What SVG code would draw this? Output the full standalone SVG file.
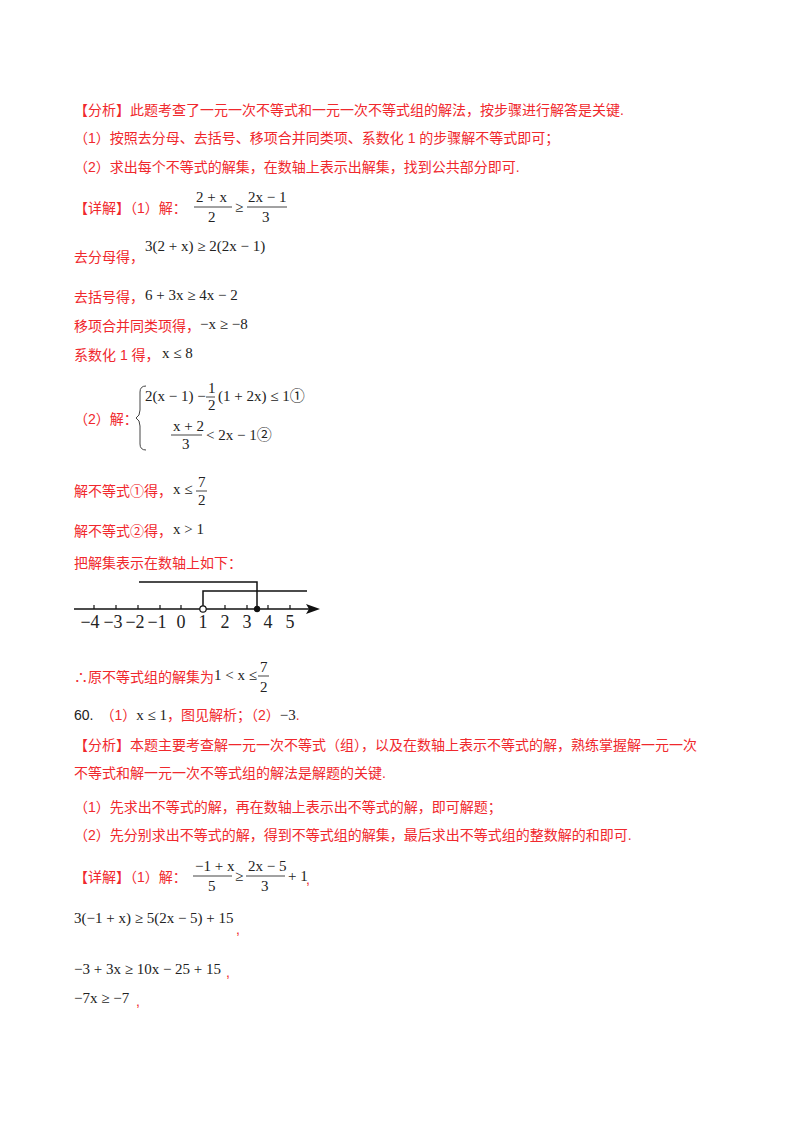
<svg xmlns="http://www.w3.org/2000/svg" width="800" height="1132" viewBox="0 0 800 1132">
<style>
.r{fill:#f0282d;font-family:"Liberation Sans","Noto Sans CJK SC",sans-serif;font-size:14px}
.m{fill:#222;font-family:"Liberation Serif","Noto Sans CJK SC",serif;font-size:15px}
.n{fill:#222;font-family:"Liberation Serif",serif;font-size:18px}
.b{stroke:#444;stroke-width:1}
.k{stroke:#111;stroke-width:1.5;fill:none}
</style>
<rect width="800" height="1132" fill="#fff"/>
<text class="r" x="74" y="115">【分析】此题考查了一元一次不等式和一元一次不等式组的解法，按步骤进行解答是关键.</text>
<text class="r" x="74" y="143">（1）按照去分母、去括号、移项合并同类项、系数化 1 的步骤解不等式即可；</text>
<text class="r" x="74" y="172">（2）求出每个不等式的解集，在数轴上表示出解集，找到公共部分即可.</text>
<text class="r" x="74" y="213">【详解】（1）解：</text>
<text class="m" x="196" y="202">2 + x</text><line class="b" x1="194" y1="207" x2="232" y2="207"/><text class="m" x="208" y="222">2</text>
<text class="m" x="235" y="212">≥</text>
<text class="m" x="248" y="202">2x − 1</text><line class="b" x1="247" y1="207" x2="287" y2="207"/><text class="m" x="262" y="222">3</text>
<text class="r" x="74" y="262">去分母得，</text>
<text class="m" x="145" y="251">3(2 + x) ≥ 2(2x − 1)</text>
<text class="r" x="74" y="302">去括号得，</text>
<text class="m" x="145" y="300">6 + 3x ≥ 4x − 2</text>
<text class="r" x="74" y="331">移项合并同类项得，</text>
<text class="m" x="200" y="329">−x ≥ −8</text>
<text class="r" x="74" y="360">系数化 1 得，</text>
<text class="m" x="162" y="358">x ≤ 8</text>
<text class="r" x="74" y="424">（2）解：</text>
<path class="b" fill="none" d="M146 386 Q140 386 140 392 L140 410 Q140 416 136 418 Q140 420 140 426 L140 444 Q140 450 146 450"/>
<text class="m" x="145" y="401">2(x − 1) −</text><text class="m" x="208" y="393" font-size="12">1</text><line class="b" x1="206" y1="397" x2="215" y2="397"/><text class="m" x="208" y="410" font-size="12">2</text>
<text class="m" x="218" y="401">(1 + 2x) ≤ 1①</text>
<text class="m" x="173" y="431">x + 2</text><line class="b" x1="171" y1="435" x2="202" y2="435"/><text class="m" x="182" y="449">3</text>
<text class="m" x="206" y="440">&lt; 2x − 1②</text>
<text class="r" x="74" y="496">解不等式①得，</text>
<text class="m" x="173" y="494">x ≤</text><text class="m" x="198" y="487">7</text><line class="b" x1="196" y1="491" x2="207" y2="491"/><text class="m" x="198" y="505">2</text>
<text class="r" x="74" y="536">解不等式②得，</text>
<text class="m" x="173" y="534">x &gt; 1</text>
<text class="r" x="74" y="568">把解集表示在数轴上如下：</text>
<g id="numberline">
<line class="k" x1="74" y1="609" x2="312" y2="609"/>
<path d="M320 609 L306 604 L309 609 L306 614 Z" fill="#111"/>
<g stroke="#111" stroke-width="1.2">
<line x1="94" y1="605" x2="94" y2="609"/><line x1="116" y1="605" x2="116" y2="609"/><line x1="138" y1="605" x2="138" y2="609"/><line x1="160" y1="605" x2="160" y2="609"/><line x1="181" y1="605" x2="181" y2="609"/><line x1="225" y1="605" x2="225" y2="609"/><line x1="247" y1="605" x2="247" y2="609"/><line x1="268" y1="605" x2="268" y2="609"/><line x1="290" y1="605" x2="290" y2="609"/>
</g>
<polyline class="k" points="139,582 257,582 257,609"/>
<polyline class="k" points="203,609 203,591 307,591"/>
<circle cx="203" cy="609" r="3.2" fill="#fff" stroke="#111" stroke-width="1.2"/>
<circle cx="257" cy="609" r="3.2" fill="#111"/>
<g class="n" text-anchor="middle">
<text x="90" y="628">−4</text><text x="113" y="628">−3</text><text x="135" y="628">−2</text><text x="157" y="628">−1</text><text x="181" y="628">0</text><text x="203" y="628">1</text><text x="225" y="628">2</text><text x="247" y="628">3</text><text x="268" y="628">4</text><text x="290" y="628">5</text>
</g>
</g>
<text class="r" x="74" y="682">∴原不等式组的解集为</text>
<text class="m" x="214" y="680">1 &lt; x ≤</text><text class="m" x="260" y="672">7</text><line class="b" x1="258" y1="676" x2="269" y2="676"/><text class="m" x="260" y="692">2</text>
<text class="r" x="74" y="720"><tspan fill="#222">60.</tspan>　（1）<tspan class="m" fill="#222">x ≤ 1</tspan>，图见解析；（2）<tspan class="m" fill="#222">−3</tspan>.</text>
<text class="r" x="74" y="750">【分析】本题主要考查解一元一次不等式（组），以及在数轴上表示不等式的解，熟练掌握解一元一次</text>
<text class="r" x="74" y="778">不等式和解一元一次不等式组的解法是解题的关键.</text>
<text class="r" x="74" y="812">（1）先求出不等式的解，再在数轴上表示出不等式的解，即可解题；</text>
<text class="r" x="74" y="840">（2）先分别求出不等式的解，得到不等式组的解集，最后求出不等式组的整数解的和即可.</text>
<text class="r" x="74" y="882">【详解】（1）解：</text>
<text class="m" x="195" y="871">−1 + x</text><line class="b" x1="193" y1="876" x2="232" y2="876"/><text class="m" x="208" y="891">5</text>
<text class="m" x="235" y="881">≥</text>
<text class="m" x="248" y="871">2x − 5</text><line class="b" x1="246" y1="876" x2="285" y2="876"/><text class="m" x="261" y="891">3</text>
<text class="m" x="288" y="881">+ 1</text><text class="r" x="306" y="884">,</text>
<text class="m" x="74" y="923">3(−1 + x) ≥ 5(2x − 5) + 15</text><text class="r" x="236" y="934">,</text>
<text class="m" x="74" y="974">−3 + 3x ≥ 10x − 25 + 15</text><text class="r" x="226" y="977">,</text>
<text class="m" x="74" y="1003">−7x ≥ −7</text><text class="r" x="136" y="1006">,</text>
</svg>
